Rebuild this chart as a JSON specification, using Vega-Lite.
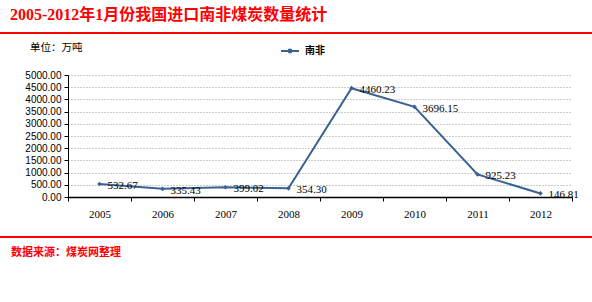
{
  "$schema": "https://vega.github.io/schema/vega-lite/v6.json",
  "autosize": "none",
  "width": 504,
  "height": 122,
  "padding": {"left": 68, "top": 75, "right": 20, "bottom": 105},
  "background": "white",
  "config": {
    "view": {"stroke": null},
    "font": "Liberation Serif"
  },
  "data": {
    "values": [
      {"year": "2005", "value": 532.67, "series": "南非"},
      {"year": "2006", "value": 335.43, "series": "南非"},
      {"year": "2007", "value": 399.02, "series": "南非"},
      {"year": "2008", "value": 354.30, "series": "南非"},
      {"year": "2009", "value": 4460.23, "series": "南非"},
      {"year": "2010", "value": 3696.15, "series": "南非"},
      {"year": "2011", "value": 925.23, "series": "南非"},
      {"year": "2012", "value": 146.81, "series": "南非"}
    ]
  },
  "encoding": {
    "x": {
      "field": "year",
      "type": "ordinal",
      "scale": {"paddingInner": 0, "paddingOuter": 0},
      "axis": {
        "title": null,
        "labelAngle": 0,
        "labelFont": "Liberation Serif",
        "labelFontSize": 11,
        "labelColor": "#000",
        "labelPadding": 7,
        "tickBand": "extent",
        "tickSize": 4,
        "tickColor": "#000",
        "domainColor": "#000",
        "domainWidth": 1.5
      }
    },
    "y": {
      "field": "value",
      "type": "quantitative",
      "scale": {"domain": [0, 5000], "nice": false},
      "axis": {
        "title": null,
        "values": [0, 500, 1000, 1500, 2000, 2500, 3000, 3500, 4000, 4500, 5000],
        "format": ".2f",
        "labelFont": "Liberation Sans",
        "labelFontSize": 10,
        "labelColor": "#000",
        "labelPadding": 3,
        "tickSize": 4,
        "tickColor": "#000",
        "domainColor": "#000",
        "gridColor": "#9a9a9a",
        "gridDash": [1, 2],
        "gridWidth": 1
      }
    }
  },
  "layer": [
    {
      "mark": {"type": "line", "strokeWidth": 2},
      "encoding": {
        "color": {
          "field": "series",
          "type": "nominal",
          "scale": {"range": ["#3a6191"]},
          "legend": {
            "title": null,
            "orient": "none",
            "legendX": 212,
            "legendY": -34,
            "symbolType": "M-1,0L1,0M-0.16,0A0.16,0.16,0,1,0,0.16,0A0.16,0.16,0,1,0,-0.16,0Z",
            "symbolSize": 324,
            "symbolStrokeWidth": 2,
            "symbolStrokeColor": "#3a6191",
            "symbolFillColor": "#3a6191",
            "labelFont": "Noto Sans CJK SC",
            "labelFontSize": 10,
            "labelFontWeight": "bold",
            "labelColor": "#000",
            "labelOffset": 5
          }
        }
      }
    },
    {
      "mark": {"type": "point", "filled": true, "size": 22, "opacity": 1, "shape": "diamond", "color": "#3a6191"}
    },
    {
      "mark": {"type": "text", "align": "left", "baseline": "middle", "dx": 8, "dy": 2, "font": "Liberation Serif", "fontSize": 11, "color": "#000"},
      "encoding": {"text": {"field": "value", "type": "quantitative", "format": ".2f"}}
    },
    {
      "data": {"values": [{"label": "2005-2012年1月份我国进口南非煤炭数量统计"}]},
      "mark": {"type": "text", "align": "left", "baseline": "alphabetic", "font": "Liberation Serif, Noto Sans CJK SC", "fontSize": 16, "fontWeight": "bold", "color": "#ff0000"},
      "encoding": {"x": {"value": -58}, "y": {"value": -55}, "text": {"field": "label"}}
    },
    {
      "data": {"values": [{"label": "单位：万吨"}]},
      "mark": {"type": "text", "align": "left", "baseline": "middle", "font": "Noto Sans CJK SC", "fontSize": 10.5, "color": "#000"},
      "encoding": {"x": {"value": -38}, "y": {"value": -27}, "text": {"field": "label"}}
    },
    {
      "data": {"values": [{"label": "数据来源：煤炭网整理"}]},
      "mark": {"type": "text", "align": "left", "baseline": "middle", "font": "Noto Sans CJK SC", "fontSize": 11, "fontWeight": "bold", "color": "#ff0000"},
      "encoding": {"x": {"value": -57}, "y": {"value": 178}, "text": {"field": "label"}}
    },
    {
      "data": {"values": [{"pos": "top"}]},
      "mark": {"type": "rule", "color": "#ff0000", "strokeWidth": 2},
      "encoding": {"x": {"value": -68}, "x2": {"value": 524}, "y": {"value": -42}}
    },
    {
      "data": {"values": [{"pos": "bottom"}]},
      "mark": {"type": "rule", "color": "#ff0000", "strokeWidth": 2},
      "encoding": {"x": {"value": -68}, "x2": {"value": 524}, "y": {"value": 162}}
    }
  ]
}
